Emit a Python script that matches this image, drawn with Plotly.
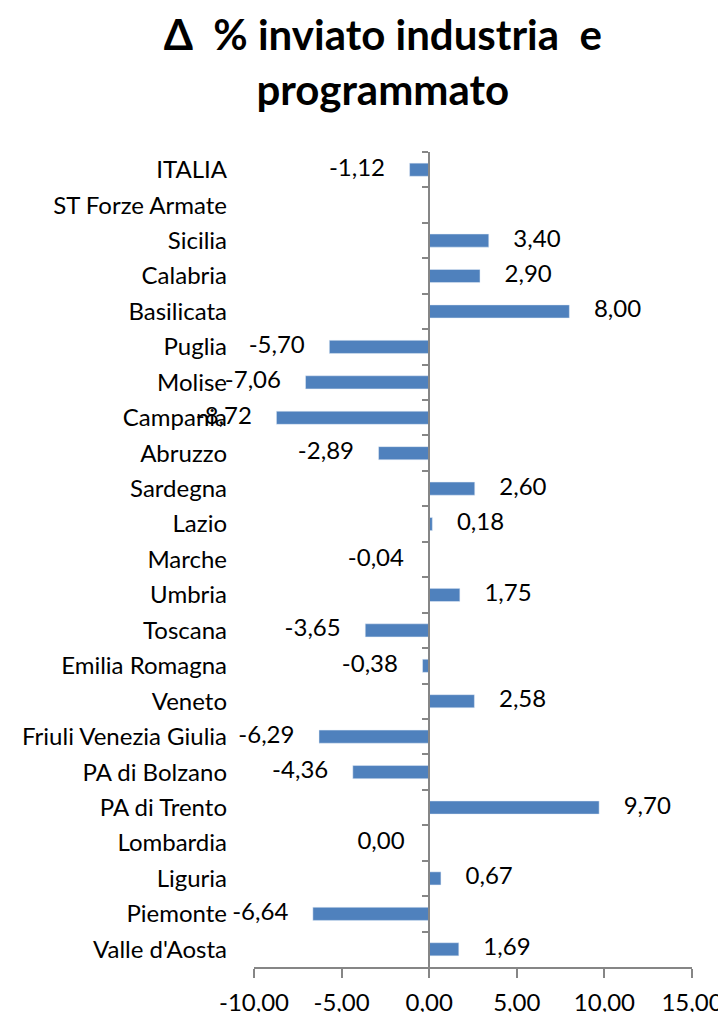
import plotly.graph_objects as go

regions = ["ITALIA", "ST Forze Armate", "Sicilia", "Calabria", "Basilicata", "Puglia",
           "Molise", "Campania", "Abruzzo", "Sardegna", "Lazio", "Marche", "Umbria",
           "Toscana", "Emilia Romagna", "Veneto", "Friuli Venezia Giulia", "PA di Bolzano",
           "PA di Trento", "Lombardia", "Liguria", "Piemonte", "Valle d'Aosta"]
delta = [-1.12, None, 3.40, 2.90, 8.00, -5.70, -7.06, -8.72, -2.89, 2.60, 0.18, -0.04, 1.75,
         -3.65, -0.38, 2.58, -6.29, -4.36, 9.70, 0.00, 0.67, -6.64, 1.69]
x_ticks = [-10, -5, 0, 5, 10, 15]
x_tick_labels = ["-10,00", "-5,00", "0,00", "5,00", "10,00", "15,00"]

FONT = "Lato, 'Noto Sans', sans-serif"
BAR = "#4F81BD"
AX = "#868686"
PAD = "\u00a0" * 4
FS = 24

labels, positions = [], []
for v in delta:
    if v is None:
        labels.append("")
        positions.append("middle right")
        continue
    s = f"{v:.2f}".replace(".", ",")
    if v > 0:
        labels.append(PAD + s)
        positions.append("middle right")
    else:
        labels.append(s + PAD)
        positions.append("middle left")

fig = go.Figure()
fig.add_trace(go.Bar(x=delta, y=regions, orientation="h", marker_color=BAR,
                     hoverinfo="skip", yaxis="y"))
fig.add_trace(go.Scatter(x=delta, y=regions, mode="text", text=labels, cliponaxis=False,
                         textposition=positions, textfont=dict(size=FS, color="black", family=FONT),
                         hoverinfo="skip", yaxis="y2"))

yr = [len(regions) - 0.5, -0.5]
fig.update_layout(
    width=718, height=1004,
    margin=dict(l=246, r=34, t=144, b=45),
    paper_bgcolor="white", plot_bgcolor="white",
    separators=",.",
    showlegend=False,
    bargap=0.63,
    font=dict(family=FONT, color="black", size=FS),
    title=dict(text="<b>Δ\u00a0 % inviato industria\u00a0 e<br>programmato</b>",
               x=0.522, xanchor="center", y=0.958, yanchor="top",
               font=dict(size=42, family=FONT, color="black")),
    xaxis=dict(range=[-10, 15], tickvals=x_ticks, ticktext=x_tick_labels, automargin=False,
               showgrid=False, zeroline=False, showline=True, linecolor=AX, linewidth=2,
               ticks="outside", ticklen=9, tickcolor=AX, tickwidth=2,
               ticklabelstandoff=4, tickfont=dict(size=FS), domain=[0, 1]),
    yaxis=dict(type="category", categoryorder="array", categoryarray=regions, range=yr,
               anchor="free", position=0.4, showline=True, linecolor=AX, linewidth=2,
               ticks="outside", tickson="boundaries", ticklen=6, tickcolor=AX, tickwidth=2,
               showticklabels=False, showgrid=False, zeroline=False, automargin=False),
    yaxis2=dict(type="category", categoryorder="array", categoryarray=regions, range=yr,
                overlaying="y", anchor="x", side="left", showline=False, ticks="",
                showticklabels=True, ticklabelstandoff=26, tickfont=dict(size=FS),
                showgrid=False, zeroline=False, automargin=False),
)

fig.write_html("out.html")
